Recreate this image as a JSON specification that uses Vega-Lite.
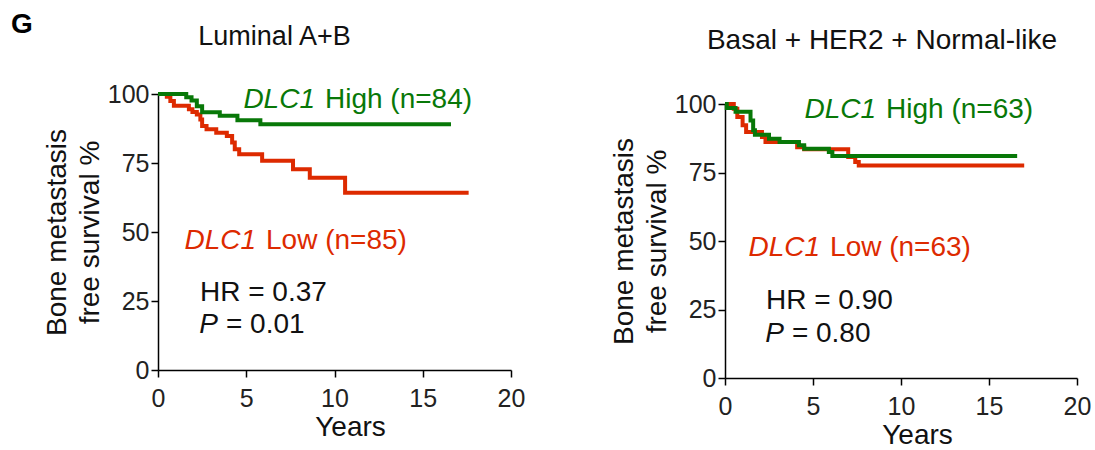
{
  "$schema": "https://vega.github.io/schema/vega-lite/v6.json",
  "padding": {"left": 10, "top": 11, "right": 0, "bottom": 0},
  "background": "white",
  "datasets": {
    "curves": [
      {"panel": "luminal", "group": "Low", "years": 0, "pct": 100},
      {"panel": "luminal", "group": "Low", "years": 0.5, "pct": 99.0},
      {"panel": "luminal", "group": "Low", "years": 0.7, "pct": 97.5},
      {"panel": "luminal", "group": "Low", "years": 0.9, "pct": 95.7},
      {"panel": "luminal", "group": "Low", "years": 1.75, "pct": 94.5},
      {"panel": "luminal", "group": "Low", "years": 1.95, "pct": 93.5},
      {"panel": "luminal", "group": "Low", "years": 2.2, "pct": 92.6},
      {"panel": "luminal", "group": "Low", "years": 2.4, "pct": 90.8},
      {"panel": "luminal", "group": "Low", "years": 2.5, "pct": 88.4},
      {"panel": "luminal", "group": "Low", "years": 2.75, "pct": 87.2},
      {"panel": "luminal", "group": "Low", "years": 3.3, "pct": 86.0},
      {"panel": "luminal", "group": "Low", "years": 3.9, "pct": 84.8},
      {"panel": "luminal", "group": "Low", "years": 4.2, "pct": 82.4},
      {"panel": "luminal", "group": "Low", "years": 4.35, "pct": 80.0},
      {"panel": "luminal", "group": "Low", "years": 4.6, "pct": 78.2},
      {"panel": "luminal", "group": "Low", "years": 5.9, "pct": 75.8},
      {"panel": "luminal", "group": "Low", "years": 7.65, "pct": 72.7},
      {"panel": "luminal", "group": "Low", "years": 8.6, "pct": 69.7},
      {"panel": "luminal", "group": "Low", "years": 10.6, "pct": 64.2},
      {"panel": "luminal", "group": "Low", "years": 17.6, "pct": 64.2},
      {"panel": "luminal", "group": "High", "years": 0, "pct": 100},
      {"panel": "luminal", "group": "High", "years": 1.6, "pct": 98.8},
      {"panel": "luminal", "group": "High", "years": 1.9, "pct": 97.6},
      {"panel": "luminal", "group": "High", "years": 2.2, "pct": 95.6},
      {"panel": "luminal", "group": "High", "years": 2.5, "pct": 93.4},
      {"panel": "luminal", "group": "High", "years": 3.5, "pct": 92.1},
      {"panel": "luminal", "group": "High", "years": 4.5, "pct": 90.5},
      {"panel": "luminal", "group": "High", "years": 5.8, "pct": 89.0},
      {"panel": "luminal", "group": "High", "years": 16.6, "pct": 89.0},
      {"panel": "basal", "group": "Low", "years": 0, "pct": 100},
      {"panel": "basal", "group": "Low", "years": 0.5, "pct": 98.3},
      {"panel": "basal", "group": "Low", "years": 0.7, "pct": 95.3},
      {"panel": "basal", "group": "Low", "years": 1.0, "pct": 92.2},
      {"panel": "basal", "group": "Low", "years": 1.2, "pct": 89.8},
      {"panel": "basal", "group": "Low", "years": 2.1, "pct": 88.0},
      {"panel": "basal", "group": "Low", "years": 2.3, "pct": 86.1},
      {"panel": "basal", "group": "Low", "years": 4.1, "pct": 84.2},
      {"panel": "basal", "group": "Low", "years": 4.5, "pct": 83.5},
      {"panel": "basal", "group": "Low", "years": 7.0, "pct": 80.7},
      {"panel": "basal", "group": "Low", "years": 7.4, "pct": 78.8},
      {"panel": "basal", "group": "Low", "years": 7.6, "pct": 77.6},
      {"panel": "basal", "group": "Low", "years": 17.0, "pct": 77.6},
      {"panel": "basal", "group": "High", "years": 0, "pct": 100},
      {"panel": "basal", "group": "High", "years": 0.1, "pct": 98.5},
      {"panel": "basal", "group": "High", "years": 0.6, "pct": 97.2},
      {"panel": "basal", "group": "High", "years": 1.45, "pct": 94.0},
      {"panel": "basal", "group": "High", "years": 1.6, "pct": 90.4},
      {"panel": "basal", "group": "High", "years": 1.7, "pct": 88.8},
      {"panel": "basal", "group": "High", "years": 2.5, "pct": 87.3},
      {"panel": "basal", "group": "High", "years": 3.1, "pct": 86.1},
      {"panel": "basal", "group": "High", "years": 4.2, "pct": 84.9},
      {"panel": "basal", "group": "High", "years": 4.5, "pct": 83.7},
      {"panel": "basal", "group": "High", "years": 5.9, "pct": 82.5},
      {"panel": "basal", "group": "High", "years": 6.1, "pct": 81.0},
      {"panel": "basal", "group": "High", "years": 16.6, "pct": 81.0}
    ],
    "notes": [
      {"panel": "luminal", "kind": "gene", "group": "High", "years": 9.46, "pct": 95, "text": "DLC1"},
      {"panel": "luminal", "kind": "label", "group": "High", "years": 9.46, "pct": 95, "text": "High (n=84)"},
      {"panel": "luminal", "kind": "gene", "group": "Low", "years": 6.12, "pct": 44, "text": "DLC1"},
      {"panel": "luminal", "kind": "label", "group": "Low", "years": 6.12, "pct": 44, "text": "Low (n=85)"},
      {"panel": "luminal", "kind": "stat", "group": "none", "years": 2.38, "pct": 25, "text": "HR = 0.37"},
      {"panel": "luminal", "kind": "p", "group": "none", "years": 3.85, "pct": 13.4, "text": "P"},
      {"panel": "luminal", "kind": "stat", "group": "none", "years": 3.85, "pct": 13.4, "text": "= 0.01"},
      {"panel": "luminal", "kind": "tag", "group": "none", "years": -8.33, "pct": 122, "text": "G"},
      {"panel": "basal", "kind": "gene", "group": "High", "years": 9.15, "pct": 95, "text": "DLC1"},
      {"panel": "basal", "kind": "label", "group": "High", "years": 9.15, "pct": 95, "text": "High (n=63)"},
      {"panel": "basal", "kind": "gene", "group": "Low", "years": 5.97, "pct": 44.5, "text": "DLC1"},
      {"panel": "basal", "kind": "label", "group": "Low", "years": 5.97, "pct": 44.5, "text": "Low (n=63)"},
      {"panel": "basal", "kind": "stat", "group": "none", "years": 2.33, "pct": 25.2, "text": "HR = 0.90"},
      {"panel": "basal", "kind": "p", "group": "none", "years": 3.8, "pct": 13.1, "text": "P"},
      {"panel": "basal", "kind": "stat", "group": "none", "years": 3.8, "pct": 13.1, "text": "= 0.80"}
    ]
  },
  "config": {
    "view": {"stroke": null},
    "font": "Liberation Sans",
    "title": {"font": "Liberation Sans", "fontSize": 27, "fontWeight": "normal", "color": "#111", "anchor": "middle", "frame": "group", "baseline": "alphabetic"},
    "axis": {"domainColor": "#000", "domainWidth": 1.5, "tickColor": "#000", "tickWidth": 1.5, "tickSize": 7, "labelFont": "Liberation Sans", "labelFontSize": 25, "labelColor": "#222", "titleFont": "Liberation Sans", "titleFontSize": 28, "titleFontWeight": "normal", "titleColor": "#111", "grid": false, "labelFlush": false, "labelOverlap": false},
    "axisX": {"labelPadding": 9, "titleX": 192, "titleY": 65, "titleAlign": "center", "titleBaseline": "alphabetic"},
    "axisY": {"labelPadding": 2, "titlePadding": 3, "titleLineHeight": 33},
    "text": {"font": "Liberation Sans", "fontSize": 28, "baseline": "alphabetic"}
  },
  "spacing": 85,
  "hconcat": [
    {
      "width": 353,
      "height": 276,
      "title": {"text": "Luminal A+B", "dx": -60, "offset": -40},
      "encoding": {
        "x": {"field": "years", "type": "quantitative", "scale": {"domain": [0, 20]}, "axis": {"values": [0, 5, 10, 15, 20], "title": "Years"}},
        "y": {"field": "pct", "type": "quantitative", "scale": {"domain": [0, 100]}, "axis": {"values": [0, 25, 50, 75, 100], "title": ["Bone metastasis", "free survival %"]}}
      },
      "layer": [
        {"data": {"name": "curves"}, "transform": [{"filter": "datum.panel === 'luminal' && datum.group === 'Low'"}], "mark": {"type": "line", "interpolate": "step-after", "strokeWidth": 4}, "encoding": {"color": {"field": "group", "type": "nominal", "scale": {"domain": ["High", "Low"], "range": ["#087808", "#DD2A00"]}, "legend": null}}},
        {"data": {"name": "curves"}, "transform": [{"filter": "datum.panel === 'luminal' && datum.group === 'High'"}], "mark": {"type": "line", "interpolate": "step-after", "strokeWidth": 4}, "encoding": {"color": {"field": "group", "type": "nominal", "legend": null}}},
        {"data": {"name": "notes"}, "transform": [{"filter": "datum.panel === 'luminal' && datum.kind === 'gene'"}], "mark": {"type": "text", "align": "right", "fontStyle": "italic", "dx": -10}, "encoding": {"text": {"field": "text"}, "color": {"field": "group", "type": "nominal", "legend": null}}},
        {"data": {"name": "notes"}, "transform": [{"filter": "datum.panel === 'luminal' && datum.kind === 'label'"}], "mark": {"type": "text", "align": "left"}, "encoding": {"text": {"field": "text"}, "color": {"field": "group", "type": "nominal", "legend": null}}},
        {"data": {"name": "notes"}, "transform": [{"filter": "datum.panel === 'luminal' && datum.kind === 'stat'"}], "mark": {"type": "text", "align": "left", "color": "#111"}, "encoding": {"text": {"field": "text"}}},
        {"data": {"name": "notes"}, "transform": [{"filter": "datum.panel === 'luminal' && datum.kind === 'p'"}], "mark": {"type": "text", "align": "right", "fontStyle": "italic", "color": "#111", "dx": -8}, "encoding": {"text": {"field": "text"}}},
        {"data": {"name": "notes"}, "transform": [{"filter": "datum.panel === 'luminal' && datum.kind === 'tag'"}], "mark": {"type": "text", "align": "left", "fontWeight": "bold", "fontSize": 28, "color": "#000"}, "encoding": {"text": {"field": "text"}}}
      ]
    },
    {
      "width": 352,
      "height": 284,
      "title": {"text": "Basal + HER2 + Normal-like", "dx": -19, "offset": 37, "fontSize": 28},
      "encoding": {
        "x": {"field": "years", "type": "quantitative", "scale": {"domain": [0, 20]}, "axis": {"values": [0, 5, 10, 15, 20], "title": "Years"}},
        "y": {"field": "pct", "type": "quantitative", "scale": {"domain": [0, 100], "range": [284, 10]}, "axis": {"values": [0, 25, 50, 75, 100], "title": ["Bone metastasis", "free survival %"]}}
      },
      "layer": [
        {"data": {"name": "curves"}, "transform": [{"filter": "datum.panel === 'basal' && datum.group === 'Low'"}], "mark": {"type": "line", "interpolate": "step-after", "strokeWidth": 4}, "encoding": {"color": {"field": "group", "type": "nominal", "scale": {"domain": ["High", "Low"], "range": ["#087808", "#DD2A00"]}, "legend": null}}},
        {"data": {"name": "curves"}, "transform": [{"filter": "datum.panel === 'basal' && datum.group === 'High'"}], "mark": {"type": "line", "interpolate": "step-after", "strokeWidth": 4}, "encoding": {"color": {"field": "group", "type": "nominal", "legend": null}}},
        {"data": {"name": "notes"}, "transform": [{"filter": "datum.panel === 'basal' && datum.kind === 'gene'"}], "mark": {"type": "text", "align": "right", "fontStyle": "italic", "dx": -10}, "encoding": {"text": {"field": "text"}, "color": {"field": "group", "type": "nominal", "legend": null}}},
        {"data": {"name": "notes"}, "transform": [{"filter": "datum.panel === 'basal' && datum.kind === 'label'"}], "mark": {"type": "text", "align": "left"}, "encoding": {"text": {"field": "text"}, "color": {"field": "group", "type": "nominal", "legend": null}}},
        {"data": {"name": "notes"}, "transform": [{"filter": "datum.panel === 'basal' && datum.kind === 'stat'"}], "mark": {"type": "text", "align": "left", "color": "#111"}, "encoding": {"text": {"field": "text"}}},
        {"data": {"name": "notes"}, "transform": [{"filter": "datum.panel === 'basal' && datum.kind === 'p'"}], "mark": {"type": "text", "align": "right", "fontStyle": "italic", "color": "#111", "dx": -8}, "encoding": {"text": {"field": "text"}}}
      ]
    }
  ]
}
